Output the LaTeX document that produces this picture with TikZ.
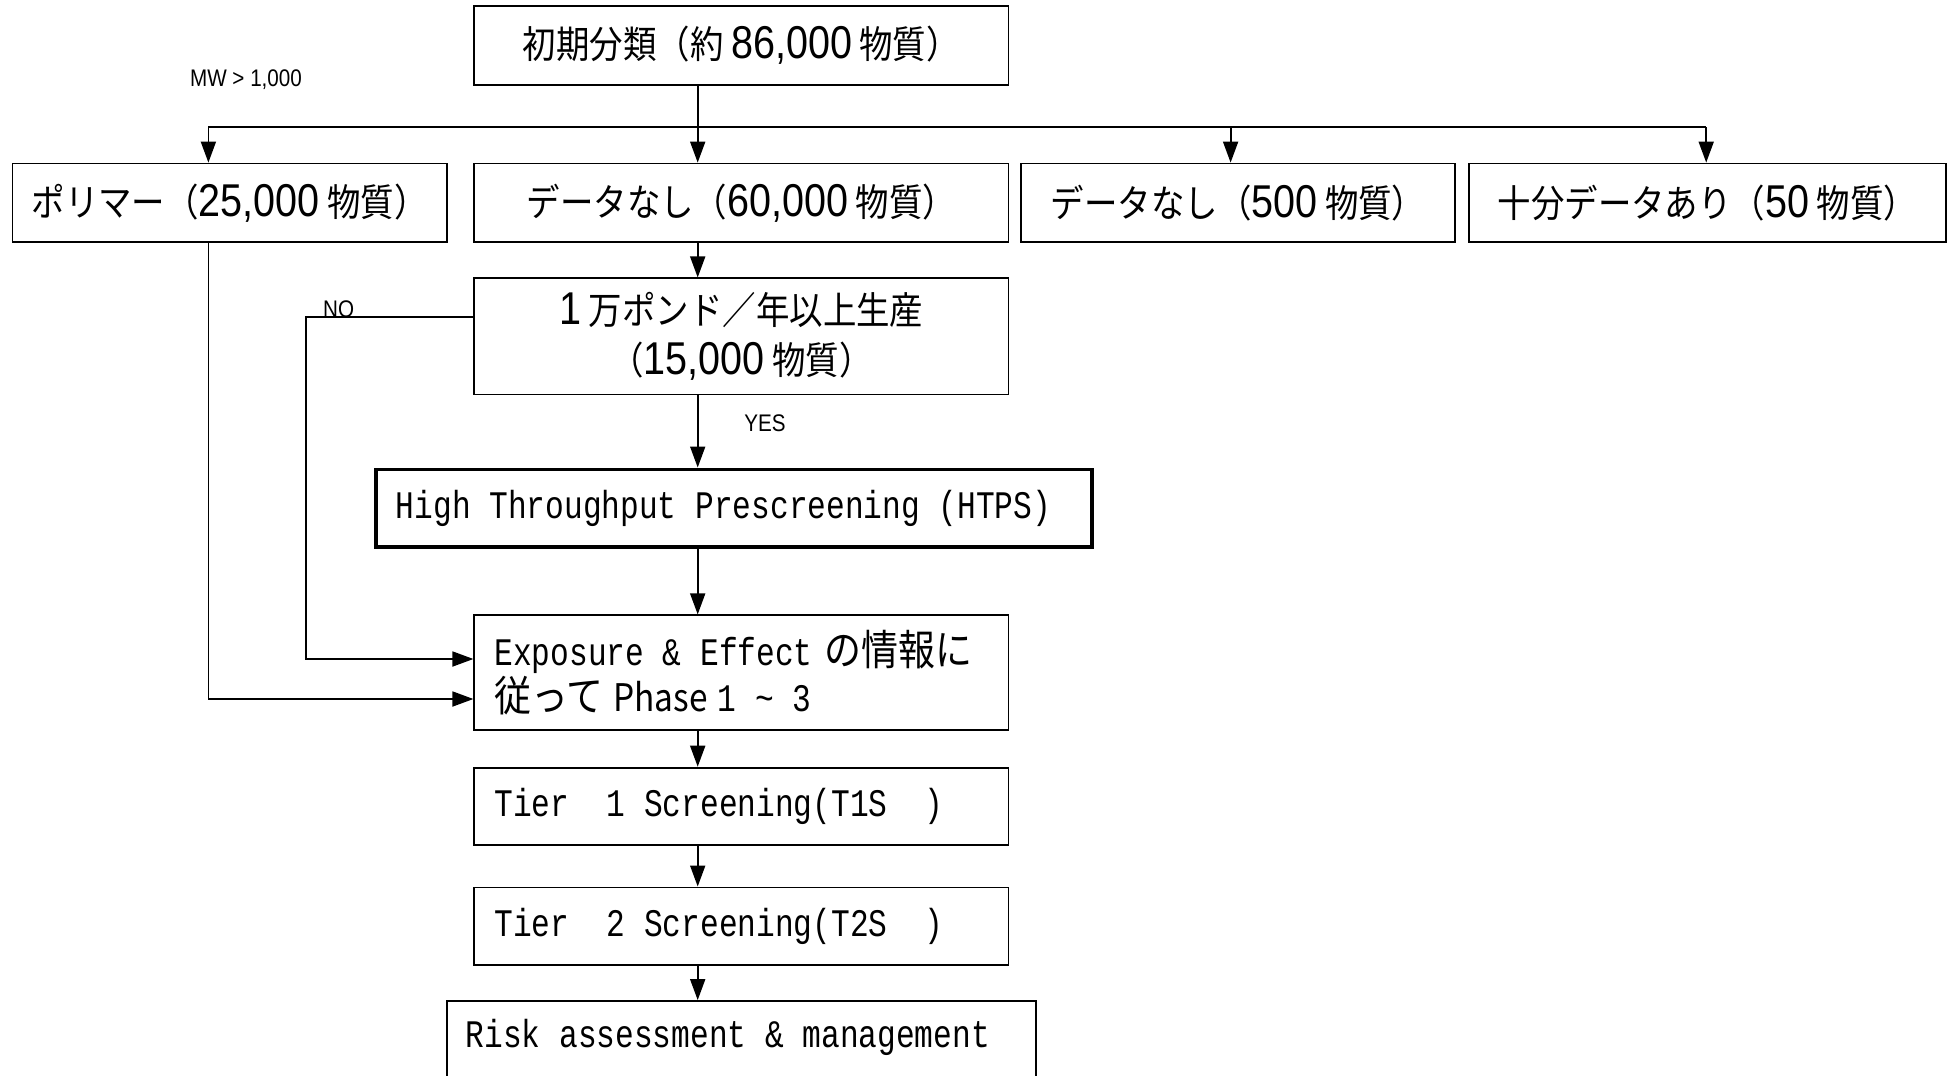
\documentclass[tikz,border=0pt]{standalone}
\usepackage{fontspec}
\usetikzlibrary{arrows.meta}
\newfontfamily\jpf[FakeStretch=0.88]{Noto Sans CJK JP}
\newfontfamily\monof[FakeStretch=0.8]{Liberation Mono}
\newfontfamily\digf[FakeStretch=0.86]{Liberation Sans}
\newcommand\jpbig{\jpf\fontsize{38}{46}\selectfont}
\newcommand\jptwo{\jpf\fontsize{38}{50}\selectfont}
\newcommand\jpexp{\jpf\fontsize{42}{46}\selectfont}
\newcommand\monobig{\monof\fontsize{39}{46}\selectfont}
\newcommand\labsmall{\digf\fontsize{24}{28}\selectfont}
\newcommand\dg[1]{{\digf\fontsize{46}{46}\selectfont #1}}
\newcommand\nosquash{\spaceskip=0pt\xspaceskip=0pt\relax}
\begin{document}
\begin{tikzpicture}[x=1pt,y=-1pt,
  box/.style={draw,line width=1.8pt,inner sep=0pt,minimum height=78.6pt},
  arr/.style={line width=1.8pt,-{Triangle[length=21pt,width=15pt]}},
  ln/.style={line width=1.8pt}]
\useasboundingbox[fill=white] (0,0) rectangle (1957,1076);
% nodes
\node[box,minimum width=534.2pt,minimum height=78.7pt,font=\jpbig] (top) at (741.4,45.5) {初期分類（約 \dg{86,000} 物質）};
\node[box,minimum width=434.3pt,font=\jpbig] (poly) at (229.6,202.8) {ポリマー（\dg{25,000} 物質）};
\node[box,minimum width=534.2pt,font=\jpbig] (nod) at (741.4,202.8) {データなし（\dg{60,000} 物質）};
\node[box,minimum width=434.4pt,font=\jpbig] (nod2) at (1238.1,202.8) {データなし（\dg{500} 物質）};
\node[box,minimum width=476.8pt,font=\jpbig] (suff) at (1707.4,202.8) {十分データあり（\dg{50} 物質）};
\node[box,minimum width=534.2pt,minimum height=116.1pt,font=\jptwo,align=center] (prod) at (741.4,336.4) {\dg{1} 万ポンド／年以上生産\\（\dg{15,000} 物質）};
\node[box,line width=3.6pt,minimum width=716.4pt,minimum height=77.4pt,text width=676pt,inner xsep=20pt,align=left,font=\monobig] (htps) at (733.9,508) {\nosquash High Throughput Prescreening (HTPS)};
\node[box,minimum width=534.2pt,minimum height=114.8pt,text width=494pt,inner xsep=20pt,align=left,font=\jpexp] (expo) at (741.4,672.7) {\nosquash{\monobig Exposure \& Effect}\hspace{12pt}の情報に\\従って\hspace{10pt}{\jpbig Phase}\hspace{10pt}{\monobig 1 \char`~{} 3}};
\node[box,minimum width=534.2pt,minimum height=77.4pt,text width=494pt,inner xsep=20pt,align=left,font=\monobig] (t1) at (741.4,806.3) {\nosquash Tier\ \ 1\ Screening(T1S\ \ )};
\node[box,minimum width=534.2pt,minimum height=77.4pt,text width=494pt,inner xsep=20pt,align=left,font=\monobig] (t2) at (741.4,926.1) {\nosquash Tier\ \ 2\ Screening(T2S\ \ )};
\node[box,minimum width=589.2pt,minimum height=100pt] (risk) at (741.4,1051) {};
\node[anchor=west,inner sep=0pt,font=\monobig] (risklbl) at (465.5,1037) {Risk assessment \& management};
% labels
\node[font=\labsmall,inner sep=0pt] (mw) at (246,80) {MW > 1,000};
\node[font=\labsmall,inner sep=0pt,anchor=south west] (nolbl) at (323,318) {NO};
\node[font=\labsmall,inner sep=0pt] (yeslbl) at (765,423) {YES};
% coordinates
\coordinate (bl) at (208.4,127.3);
\coordinate (bx) at (697.7,127.3);
\coordinate (b3) at (1230.6,127.3);
\coordinate (br) at (1706.2,127.3);
\coordinate (noc) at (305.8,317);
\coordinate (noe) at (305.8,659);
\coordinate (pe) at (208.4,699);
% connectors
\draw[ln] (bl) -- (br);
\draw[arr] (bl) -- (poly.north -| bl);
\draw[arr] (top.south -| bx) -- (nod.north -| bx);
\draw[arr] (b3) -- (nod2.north -| b3);
\draw[arr] (br) -- (suff.north -| br);
\draw[arr] (nod.south -| bx) -- (prod.north -| bx);
\draw[arr] (prod.south -| bx) -- (htps.north -| bx);
\draw[arr] (htps.south -| bx) -- (expo.north -| bx);
\draw[arr] (expo.south -| bx) -- (t1.north -| bx);
\draw[arr] (t1.south -| bx) -- (t2.north -| bx);
\draw[arr] (t2.south -| bx) -- (risk.north -| bx);
\draw[arr] (prod.west |- noc) -- (noc) -- (noe) -- (expo.west |- noe);
\draw[arr] (poly.south -| pe) -- (pe) -- (expo.west |- pe);
\end{tikzpicture}
\end{document}
